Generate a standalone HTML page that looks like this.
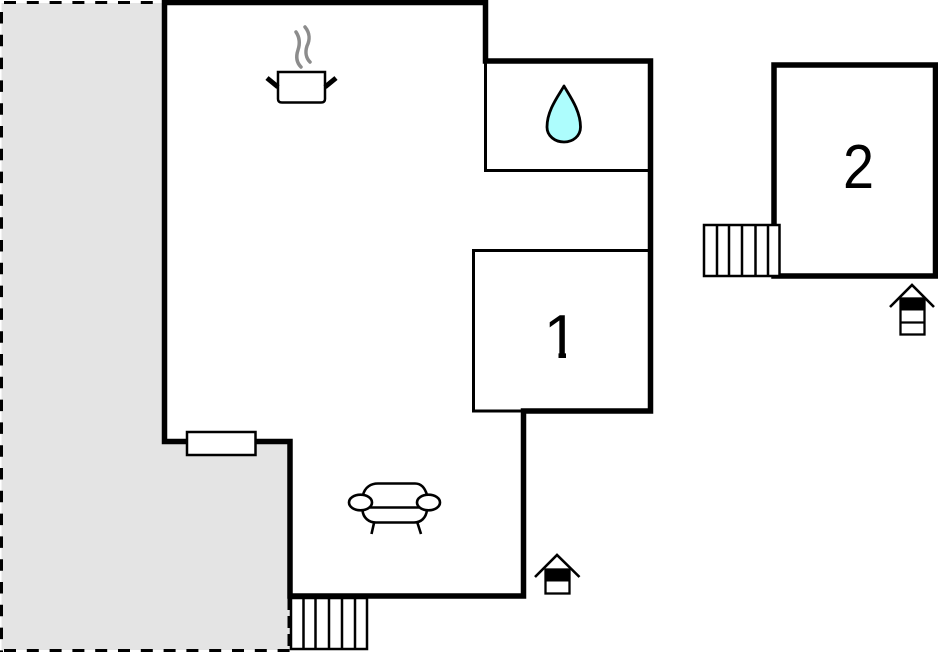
<!DOCTYPE html>
<html>
<head>
<meta charset="utf-8">
<style>
html,body{margin:0;padding:0;background:#fff;width:938px;height:652px;overflow:hidden}
svg{display:block}
text{font-family:"Liberation Sans",sans-serif;fill:#000;font-size:62px}
</style>
</head>
<body>
<svg width="938" height="652" viewBox="0 0 938 652" xmlns="http://www.w3.org/2000/svg">
<defs>
<clipPath id="one"><path d="M540 300H566V360H558.500V352H540Z"/></clipPath>
</defs>
<!-- grey terrace -->
<path d="M1.5 3H164.5V441.5H290V650H1.5Z" fill="#e4e4e4"/>
<!-- dashed outline -->
<path d="M4 2.5H164" fill="none" stroke="#000" stroke-width="3" stroke-dasharray="12 10.8"/>
<path d="M1.5 12V652" fill="none" stroke="#000" stroke-width="3" stroke-dasharray="11.5 11.3"/>
<path d="M4 650.5H290" fill="none" stroke="#000" stroke-width="3" stroke-dasharray="12 10.8"/>
<path d="M289 598V650" fill="none" stroke="#000" stroke-width="3" stroke-dasharray="12 6"/>
<!-- inner thin walls -->
<path d="M485.5 61V170.5H650.5" fill="none" stroke="#000" stroke-width="3"/>
<path d="M650.5 250.5H473.5V411H523.5" fill="none" stroke="#000" stroke-width="3"/>
<!-- main outer wall -->
<path d="M164.5 2.5H485.5V61H650.5V411H523.5V596H290V441.5H164.5Z" fill="none" stroke="#000" stroke-width="5.5" stroke-linejoin="miter"/>
<!-- building 2 -->
<path d="M774 276V65H935.5V276Z" fill="none" stroke="#000" stroke-width="5.5"/>
<!-- window -->
<rect x="187" y="432" width="68.5" height="23" fill="#fff" stroke="#000" stroke-width="2.5"/>
<!-- stairs 1 -->
<g fill="none" stroke="#000" stroke-width="2.5">
<rect x="291" y="598" width="76" height="51" fill="#fff"/>
<path d="M303.5 598V649M315.5 598V649M329 598V649M342 598V649M355 598V649"/>
</g>
<!-- stairs 2 -->
<g fill="none" stroke="#000" stroke-width="2.5">
<rect x="704" y="225" width="75.5" height="51" fill="#fff"/>
<path d="M717 225V276M729 225V276M742 225V276M755.5 225V276M768 225V276"/>
</g>
<!-- labels -->
<g clip-path="url(#one)"><text x="561" y="358" text-anchor="middle">1</text></g>
<text transform="translate(858.500 188) scale(0.9 1)" text-anchor="middle">2</text>
<!-- pot -->
<path d="M296 32C300 38 300 44 298 50C296 56 296 62 301 67" fill="none" stroke="#8c8c8c" stroke-width="3.500" stroke-linecap="round"/>
<path d="M305 27C310 33 310 40 307 46C305 52 306 58 310 62" fill="none" stroke="#8c8c8c" stroke-width="3.500" stroke-linecap="round"/>
<path d="M278 72H325V99Q325 102.500 321 102.500H282Q278 102.500 278 99Z" fill="#fff" stroke="#000" stroke-width="2.500"/>
<path d="M267 78L278 87M336 78L325 87" fill="none" stroke="#000" stroke-width="5"/>
<!-- drop -->
<path d="M564 86C559 95 547 110 547 127C547 136 555 142 564 142C573 142 580.500 136 580.500 127C580.500 110 569 95 564 86Z" fill="#adfdfd" stroke="#000" stroke-width="2.800" stroke-linejoin="round"/>
<!-- sofa -->
<g fill="none" stroke="#000" stroke-width="2.600">
<path d="M363 495C365 487 371 483.500 378 483.500H415C421 483.500 425 488 427 495"/>
<path d="M370 507.500H419"/>
<path d="M362.500 510C363 518 369 522.500 376 522.500H414C421 522.500 426 518 427 510"/>
<path d="M374 523L371.500 534M417.500 523L421 534"/>
<ellipse cx="360.500" cy="502.500" rx="11.500" ry="7.800" fill="#fff"/>
<ellipse cx="428.500" cy="502.500" rx="11.500" ry="7.800" fill="#fff"/>
</g>
<!-- house 1 -->
<rect x="545.500" y="569.500" width="24" height="24" fill="#fff" stroke="#000" stroke-width="2.300"/>
<rect x="545" y="569" width="25" height="12.500" fill="#000"/>
<path d="M535 577L557 555L579.500 577" fill="none" stroke="#000" stroke-width="2.600"/>
<!-- house 2 -->
<rect x="900.500" y="298.500" width="24" height="36" fill="#fff" stroke="#000" stroke-width="2.300"/>
<rect x="900" y="298" width="25" height="12.500" fill="#000"/>
<path d="M900 322.500H925" stroke="#000" stroke-width="2.300"/>
<path d="M890 307L912 285L934 307" fill="none" stroke="#000" stroke-width="2.600"/>
</svg>
</body>
</html>
